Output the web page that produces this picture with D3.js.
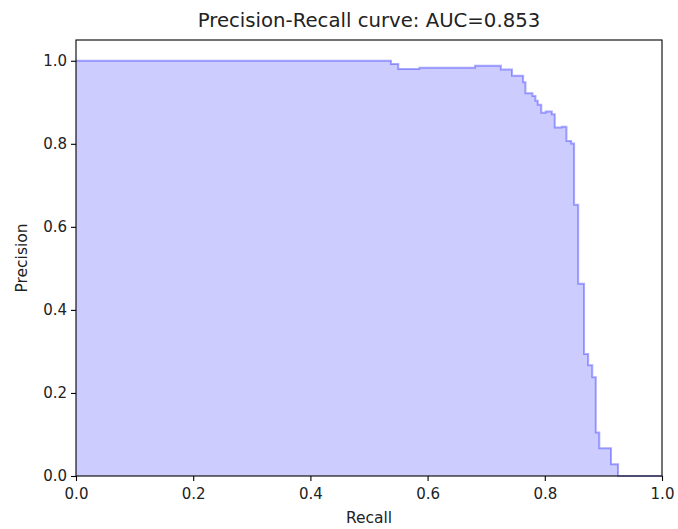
<!DOCTYPE html>
<html>
<head>
<meta charset="utf-8">
<script src="https://cdn.jsdelivr.net/npm/d3@7"></script>
<style>
  body { margin: 0; background: #fff; }
  svg { display: block; font-family: "DejaVu Sans", sans-serif; }
</style>
</head>
<body>
<svg id="chart" width="678" height="529"></svg>
<script>
// Step points (recall where the step starts, precision held until next recall)
const recall = [0.0, 0.5375, 0.550, 0.586, 0.681, 0.725, 0.744, 0.763, 0.767, 0.779, 0.784, 0.788, 0.794, 0.8015, 0.812, 0.817, 0.829, 0.837, 0.845, 0.850, 0.857, 0.867, 0.874, 0.881, 0.887, 0.893, 0.913, 0.925, 1.0];
const precision = [1.0, 0.992, 0.980, 0.983, 0.988, 0.979, 0.964, 0.948, 0.922, 0.915, 0.904, 0.894, 0.875, 0.878, 0.871, 0.839, 0.841, 0.807, 0.801, 0.653, 0.463, 0.294, 0.267, 0.238, 0.105, 0.067, 0.028, 0.0, 0.0];
const xTicks = [0.0, 0.2, 0.4, 0.6, 0.8, 1.0];
const yTicks = [0.0, 0.2, 0.4, 0.6, 0.8, 1.0];
const titleText = "Precision-Recall curve: AUC=0.853";
const xLabel = "Recall";
const yLabel = "Precision";

const data = recall.map((r, i) => ({ r, p: precision[i] }));

const svg = d3.select("#chart");
const mLeft = 76, mRight = 662, mTop = 40, mBottom = 476;

const x = d3.scaleLinear().domain([0, 1]).range([mLeft, mRight]);
const y = d3.scaleLinear().domain([0, 1.05]).range([mBottom, mTop]);

const area = d3.area()
  .x(d => x(d.r))
  .y0(y(0))
  .y1(d => y(d.p))
  .curve(d3.curveStepAfter);

const line = d3.line()
  .x(d => x(d.r))
  .y(d => y(d.p))
  .curve(d3.curveStepAfter);

svg.append("path")
  .datum(data)
  .attr("d", area)
  .attr("fill", "blue")
  .attr("fill-opacity", 0.2)
  .attr("stroke", "none");

svg.append("path")
  .datum(data)
  .attr("d", line)
  .attr("fill", "none")
  .attr("stroke", "blue")
  .attr("stroke-opacity", 0.33)
  .attr("stroke-width", 2);

// axes
const fmt = d3.format(".1f");
const xAxis = d3.axisBottom(x).tickValues(xTicks).tickFormat(fmt).tickSize(5).tickPadding(4);
const yAxis = d3.axisLeft(y).tickValues(yTicks).tickFormat(fmt).tickSize(5).tickPadding(4);

const gx = svg.append("g").attr("transform", `translate(0,${mBottom})`).call(xAxis);
const gy = svg.append("g").attr("transform", `translate(${mLeft},0)`).call(yAxis);
[gx, gy].forEach(g => {
  g.select(".domain").remove();
  g.selectAll(".tick line").attr("stroke", "#000").attr("stroke-width", 1.1);
  g.selectAll(".tick text").attr("fill", "#222").style("font-size", "15px").style("font-family", "DejaVu Sans");
});
gx.selectAll(".tick text").attr("dy", "0.9em");

// frame
svg.append("rect")
  .attr("x", mLeft).attr("y", mTop)
  .attr("width", mRight - mLeft).attr("height", mBottom - mTop)
  .attr("fill", "none").attr("stroke", "#000").attr("stroke-width", 1.1);

svg.append("text")
  .attr("x", (mLeft + mRight) / 2).attr("y", 27)
  .attr("text-anchor", "middle")
  .style("font-size", "19.7px").attr("fill", "#222")
  .text(titleText);

svg.append("text")
  .attr("x", (mLeft + mRight) / 2).attr("y", 523)
  .attr("text-anchor", "middle")
  .style("font-size", "15.5px").attr("fill", "#222")
  .text(xLabel);

svg.append("text")
  .attr("transform", `translate(27,${(mTop + mBottom) / 2}) rotate(-90)`)
  .attr("text-anchor", "middle")
  .style("font-size", "15.5px").attr("fill", "#222")
  .text(yLabel);
</script>
</body>
</html>
